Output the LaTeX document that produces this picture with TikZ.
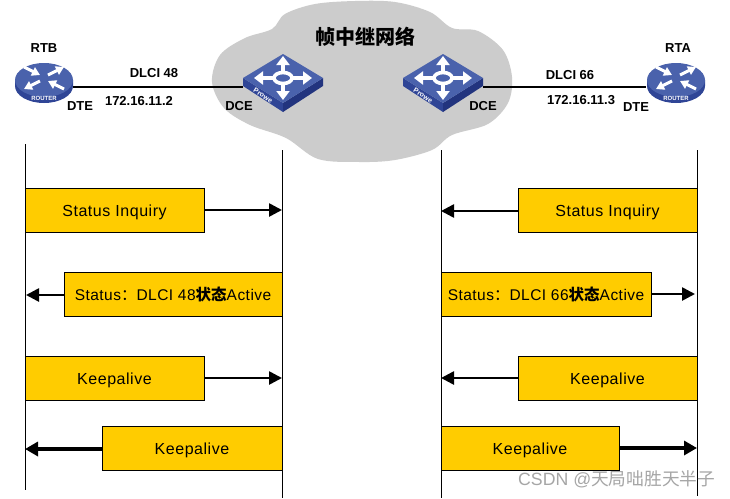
\documentclass[tikz,border=0pt]{standalone}
\usepackage{fontspec}
\setmainfont{Liberation Sans}
\newfontfamily\cjk{Noto Sans CJK SC}
\usetikzlibrary{arrows.meta,positioning}
\definecolor{MsgYellow} {HTML}{FFCC00}
\definecolor{CloudGray} {HTML}{CCCCCC}
\definecolor{DevTop}    {HTML}{4A62AC}
\definecolor{DevSide}   {HTML}{2F4596}
\definecolor{DevDark}   {HTML}{22347E}
\definecolor{MarkGray}  {HTML}{A6A6A6}
\tikzset{
  msgbox/.style={draw=black,fill=MsgYellow,line width=1pt,inner sep=0pt,
    minimum height=44pt,text height=12pt,text depth=0pt,
    font=\fontsize{16}{18}\selectfont\addfontfeature{LetterSpace=3.4}},
  msgwide/.style={msgbox,font=\fontsize{15.5}{18}\selectfont\addfontfeature{LetterSpace=3}},
  msgarrow/.style={-{Triangle[length=13pt,width=13pt]},line width=2.6pt},
  msgheavy/.style={-{Triangle[length=13pt,width=14pt]},line width=3.4pt},
  tag/.style={font=\fontsize{13}{15}\selectfont\bfseries,inner sep=0pt},
  device/.style={inner sep=0pt,minimum height=1pt},
  timeline/.style={line width=1pt},
  routerpic/.pic={
    \fill[DevSide] (-29,-7) -- (-29,-1) arc[start angle=180,end angle=0,x radius=29,y radius=17]
      -- (29,-7) -- cycle;
    \fill[DevTop] (0,-7) ellipse[x radius=29,y radius=17];
    \foreach \fx/\fy/\tx/\ty in {-20/-20/-4/-12,20/2/4/-6,4/-12/20/-20,-4/-6/-20/2}
      \draw[white,line width=3pt,-{Triangle[length=8pt,width=9pt]}] (\fx,\fy) -- (\tx,\ty);
    \node[white,inner sep=0pt,font=\fontsize{6}{7}\selectfont\bfseries] at (0,11.5) {ROUTER};
  },
  switchpic/.pic={
    \fill[DevSide] (-40,-9) -- (0,16) -- (0,25) -- (-40,-1) -- cycle;
    \fill[DevDark] (40,-9) -- (0,16) -- (0,25) -- (40,-1) -- cycle;
    \fill[DevTop] (-40,-9) -- (0,-33) -- (40,-9) -- (0,16) -- cycle;
    \foreach \tx/\ty in {0/-31,0/13,-29/-9,29/-9}
      \draw[white,line width=3.6pt,-{Triangle[length=9pt,width=13pt]}] (0,-9) -- (\tx,\ty);
    \fill[DevTop,draw=white,line width=3.6pt] (0,-9) ellipse[x radius=9,y radius=5.5];
    \node[white,inner sep=0pt,rotate=-32,font=\fontsize{7}{8}\selectfont\bfseries] at (-20,8.5) {Prowe};
  },
}
\begin{document}
\begin{tikzpicture}[x=1pt,y=-1pt]
  \useasboundingbox[fill=white] (0,0) rectangle (730,498);
  % Cloud
  \fill[CloudGray] plot[smooth cycle,tension=0.55] coordinates {
    (212,82) (220,55) (245,38) (272,29) (285,14) (315,4) (355,1) (395,2)
    (430,12) (452,28) (478,31) (503,50) (512,77) (508,103) (488,124)
    (452,135) (432,150) (395,160) (360,162) (318,159) (286,138) (250,125) (224,108)};
  \node[inner sep=0pt,font=\fontsize{20}{22}\selectfont\cjk\bfseries] (TITLE) at (365,37) {帧中继网络};
  % Devices
  \node[device,minimum width=58pt] (RTB) at (44,87) {};
  \node[device,minimum width=60pt] (RTA) at (676,87) {};
  \node[device,minimum width=80pt] (SWB) at (283,87) {};
  \node[device,minimum width=80pt] (SWA) at (443,87) {};
  \draw[line width=1.6pt] (RTB.east) -- (SWB.west);
  \draw[line width=1.6pt] (SWA.east) -- (RTA.west);
  \pic at (RTB) {routerpic};
  \pic at (RTA) {routerpic};
  \pic at (SWB) {switchpic};
  \pic at (SWA) {switchpic};
  % Labels
  \node[tag] (LRTB) at (44,48) {RTB};
  \node[tag] (LRTA) at (678,48) {RTA};
  \node[tag] (L48) at (154,73) {DLCI 48};
  \node[tag] (L66) at (570,75) {DLCI 66};
  \node[tag] (IPB) at (139,101) {172.16.11.2};
  \node[tag] (IPA) at (581,100) {172.16.11.3};
  \node[tag] (DTEB) at (80,106) {DTE};
  \node[tag] (DCEB) at (239,106) {DCE};
  \node[tag] (DCEA) at (483,106) {DCE};
  \node[tag] (DTEA) at (636,107) {DTE};
  % Time lines
  \draw[timeline] (25,144) coordinate (T1) -- (25,490) coordinate (B1);
  \draw[timeline] (282,150) coordinate (T2) -- (282,498) coordinate (B2);
  \draw[timeline] (441,150) coordinate (T3) -- (441,498) coordinate (B3);
  \draw[timeline] (697,150) coordinate (T4) -- (697,496) coordinate (B4);
  % Row 1
  \node[msgbox,minimum width=179pt] (S1) at (114.5,210) {Status Inquiry};
  \node[msgbox,minimum width=179pt] (S2) at (607.5,210) {Status Inquiry};
  \coordinate (E1) at (282,210);
  \coordinate (E2) at (441,211);
  \draw[msgarrow] (S1.east) -- (E1);
  \draw[msgarrow] (S2.west|-E2) -- (E2);
  % Row 2
  \node[msgwide,minimum width=218pt] (D1) at (173,294) {Status{\cjk：}DLCI 48{\cjk\bfseries 状态}Active};
  \node[msgwide,minimum width=210pt] (D2) at (546,294) {Status{\cjk：}DLCI 66{\cjk\bfseries 状态}Active};
  \coordinate (F1) at (26,295);
  \coordinate (F2) at (695,294);
  \draw[msgarrow] (D1.west|-F1) -- (F1);
  \draw[msgarrow] (D2.east) -- (F2);
  % Row 3
  \node[msgbox,minimum width=179pt] (K1) at (114.5,378) {Keepalive};
  \node[msgbox,minimum width=179pt] (K2) at (607.5,378) {Keepalive};
  \coordinate (G1) at (282,378);
  \coordinate (G2) at (441,378);
  \draw[msgarrow] (K1.east) -- (G1);
  \draw[msgarrow] (K2.west) -- (G2);
  % Row 4
  \node[msgbox,minimum width=180pt] (K3) at (192,448) {Keepalive};
  \node[msgbox,minimum width=178pt] (K4) at (530,448) {Keepalive};
  \coordinate (H1) at (25,449);
  \coordinate (H2) at (697,448);
  \draw[msgheavy] (K3.west|-H1) -- (H1);
  \draw[msgheavy] (K4.east) -- (H2);
  % Watermark
  \node[MarkGray,inner sep=0pt,anchor=west,font=\fontsize{17.7}{19}\selectfont] (MARK) at (518,479)
    {CSDN @{\cjk 天局咄胜天半子}};
\end{tikzpicture}
\end{document}
